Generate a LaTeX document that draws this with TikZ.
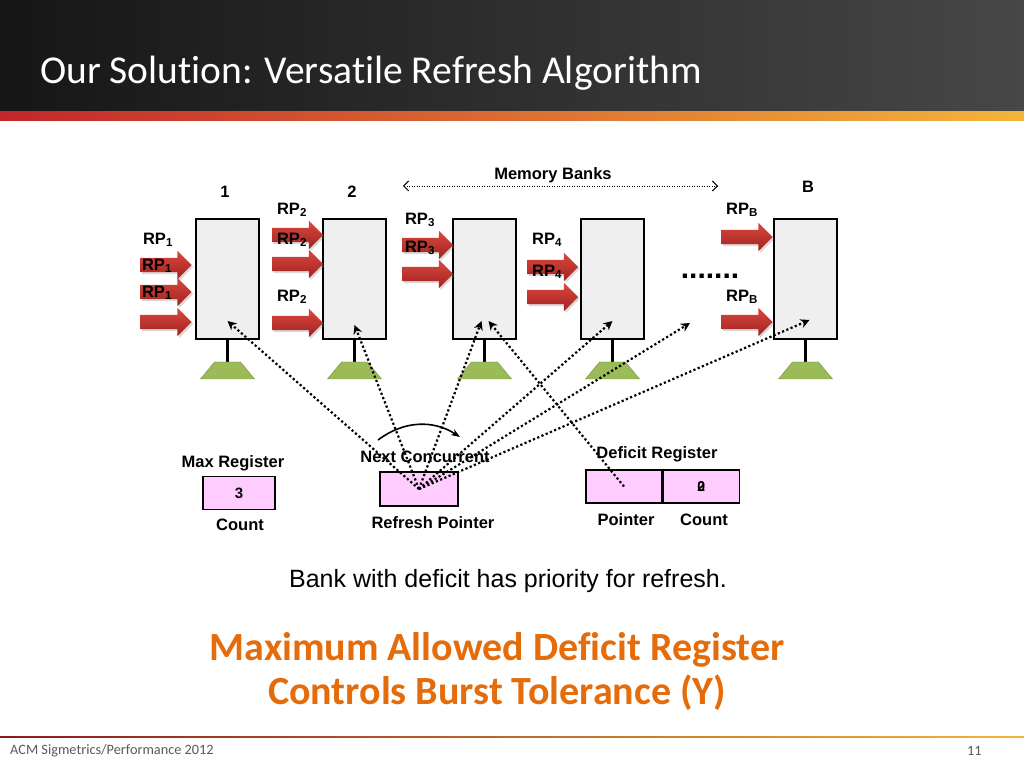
\documentclass[tikz,border=0pt]{standalone}
\usepackage{fontspec}
\setmainfont{Liberation Sans}
\newfontfamily\slidefont[Ligatures=NoCommon]{Carlito}
\usepackage{tikz}
\usetikzlibrary{positioning, shapes.arrows, shadows, arrows.meta}

\definecolor{hdrleft}{HTML}{161616}
\definecolor{hdrright}{HTML}{474747}
\definecolor{stripered}{HTML}{C3262B}
\definecolor{stripeorange}{HTML}{E8752A}
\definecolor{stripegold}{HTML}{F4B53A}
\definecolor{bankgray}{HTML}{EFEFEF}
\definecolor{footgreen}{HTML}{9BBB59}
\definecolor{rptop}{HTML}{D9483F}
\definecolor{rpbot}{HTML}{A3221F}
\definecolor{regpink}{HTML}{FFCCFF}
\definecolor{slideorange}{HTML}{E46C0A}
\definecolor{footgray}{HTML}{595959}

\begin{document}
\begin{tikzpicture}[
        x=1pt, y=1pt,
        bank/.style={draw, line width=2pt, fill=bankgray, minimum width=63pt, minimum height=120pt, inner sep=0pt},
        foot/.style={fill=footgreen, draw=footgreen!75!black, line width=0.4pt},
        rparrow/.style={single arrow, single arrow head extend=7pt, minimum height=51pt, inner xsep=0pt, inner ysep=7pt, top color=rptop, bottom color=rpbot, drop shadow={opacity=0.3, shadow xshift=1.5pt, shadow yshift=-2pt}},
        lbl/.style={font=\bfseries\fontsize{16.5}{18}\selectfont, inner sep=1pt},
        reg/.style={draw, line width=1.2pt, fill=regpink, minimum height=33pt, inner sep=0pt},
        ptr/.style={line width=2.2pt, dash pattern=on 2.2pt off 2.4pt, -{Stealth[length=9pt, width=9pt]}},
        stem/.style={line width=2.5pt}
      ]
      \useasboundingbox (0,0) rectangle (1024,768);
      % slide frame
      \shade[left color=hdrleft, right color=hdrright] (0,656) rectangle (1024,768);
      \shade[left color=stripered, middle color=stripeorange, right color=stripegold] (0,647) rectangle (1024,656);
      \node[anchor=base west, inner sep=0pt, text=white, font=\slidefont\fontsize{39.5}{44}\selectfont] (title) at (40,684) {Our Solution: Versatile Refresh Algorithm};
      \shade[left color=stripered!70!black, right color=stripegold] (0,30.5) rectangle (1024,32);
      \node[anchor=west, inner sep=0pt, text=footgray, font=\slidefont\fontsize{14.3}{16}\selectfont] (venue) at (10,17) {ACM Sigmetrics/Performance 2012};
      \node[anchor=west, inner sep=0pt, text=footgray, font=\slidefont\fontsize{14.3}{16}\selectfont] (page) at (967,17) {11};

      % banks
      \node[bank] (bank1) at (227.5,489) {};
      \node[bank, right=62pt of bank1] (bank2) {};
      \node[bank, right=65pt of bank2] (bank3) {};
      \node[bank, right=63pt of bank3] (bank4) {};
      \node[bank, right=128pt of bank4] (bankB) {};
      \coordinate (f1) at ([yshift=-22pt]bank1.south);
      \coordinate (f2) at ([yshift=-22pt]bank2.south);
      \coordinate (f3) at ([yshift=-22pt]bank3.south);
      \coordinate (f4) at ([yshift=-22pt]bank4.south);
      \coordinate (fB) at ([yshift=-22pt]bankB.south);
      \draw[stem] (bank1.south) -- (f1);
      \draw[stem] (bank2.south) -- (f2);
      \draw[stem] (bank3.south) -- (f3);
      \draw[stem] (bank4.south) -- (f4);
      \draw[stem] (bankB.south) -- (fB);
      \draw[foot] ([xshift=-13pt]f1) -- ([xshift=13pt]f1) -- ([xshift=27pt, yshift=-17pt]f1) -- ([xshift=-27pt, yshift=-17pt]f1) -- cycle;
      \draw[foot] ([xshift=-13pt]f2) -- ([xshift=13pt]f2) -- ([xshift=27pt, yshift=-17pt]f2) -- ([xshift=-27pt, yshift=-17pt]f2) -- cycle;
      \draw[foot] ([xshift=-13pt]f3) -- ([xshift=13pt]f3) -- ([xshift=27pt, yshift=-17pt]f3) -- ([xshift=-27pt, yshift=-17pt]f3) -- cycle;
      \draw[foot] ([xshift=-13pt]f4) -- ([xshift=13pt]f4) -- ([xshift=27pt, yshift=-17pt]f4) -- ([xshift=-27pt, yshift=-17pt]f4) -- cycle;
      \draw[foot] ([xshift=-13pt]fB) -- ([xshift=13pt]fB) -- ([xshift=27pt, yshift=-17pt]fB) -- ([xshift=-27pt, yshift=-17pt]fB) -- cycle;

      \node[lbl] (n1) at (225,576) {1};
      \node[lbl] (n2) at (352,576) {2};
      \node[lbl] (nB) at (808,581) {B};
      \node[lbl] (mb) at (553,593) {Memory Banks};
      \coordinate (mbl) at (403,582);
      \coordinate (mbr) at (718,582);
      \draw[line width=0.9pt, dash pattern=on 0.9pt off 1.6pt, {Straight Barb[length=5pt]}-{Straight Barb[length=5pt]}] (mbl) -- (mbr);

      % refresh requests
      \node[rparrow] (a1a) at (162.5,503) {};
      \node[rparrow] (a1b) at (162.5,476) {};
      \node[rparrow] (a1c) at (162.5,446) {};
      \node[rparrow] (a2a) at (294,533) {};
      \node[rparrow] (a2b) at (294,504) {};
      \node[rparrow] (a2c) at (294,445) {};
      \node[rparrow] (a3a) at (424,523) {};
      \node[rparrow] (a3b) at (424,494) {};
      \node[rparrow] (a4a) at (549,501) {};
      \node[rparrow] (a4b) at (549,471) {};
      \node[rparrow] (aBa) at (743.5,531) {};
      \node[rparrow] (aBb) at (743.5,446) {};
      \node[lbl] (r1a) at (158,528) {RP\textsubscript{1}};
      \node[lbl] (r1b) at (157,502) {RP\textsubscript{1}};
      \node[lbl] (r1c) at (157,475) {RP\textsubscript{1}};
      \node[lbl] (r2a) at (292,558) {RP\textsubscript{2}};
      \node[lbl] (r2b) at (292,528) {RP\textsubscript{2}};
      \node[lbl] (r2c) at (292,471) {RP\textsubscript{2}};
      \node[lbl] (r3a) at (420,548) {RP\textsubscript{3}};
      \node[lbl] (r3b) at (420,520) {RP\textsubscript{3}};
      \node[lbl] (r4a) at (547,528) {RP\textsubscript{4}};
      \node[lbl] (r4b) at (547,496) {RP\textsubscript{4}};
      \node[lbl] (rBa) at (742,558) {RP\textsubscript{B}};
      \node[lbl] (rBb) at (742,471) {RP\textsubscript{B}};
      \node[font=\bfseries\fontsize{30}{30}\selectfont, inner sep=0pt] (dots) at (710,492) {.......};

      % registers
      \node[reg, minimum width=72pt, font=\bfseries\fontsize{15}{16}\selectfont] (maxreg) at (239,275) {3};
      \node[lbl] (maxlbl) at (233,305) {Max Register};
      \node[lbl] (maxcnt) at (240,243) {Count};
      \node[reg, minimum width=78pt, minimum height=34pt] (rp) at (419,279) {};
      \node[lbl] (nc) at (425,311) {Next Concurrent};
      \node[lbl] (rplbl) at (433,245) {Refresh Pointer};
      \node[reg, minimum width=76pt] (dp) at (624,281.5) {};
      \node[reg, minimum width=76pt, right=0pt of dp, font=\bfseries\fontsize{14}{16}\selectfont] (dc) {\rlap{0}2};
      \node[lbl] (deflbl) at (657,314) {Deficit Register};
      \node[lbl] (dplbl) at (626,248) {Pointer};
      \node[lbl] (dclbl) at (704,248) {Count};

      % pointers
      \coordinate (t1) at ([yshift=19pt]bank1.south);
      \coordinate (t2) at ([yshift=15pt]bank2.south);
      \coordinate (t3) at ([xshift=-3pt, yshift=19pt]bank3.south);
      \coordinate (t3b) at ([xshift=4pt, yshift=19pt]bank3.south);
      \coordinate (t4) at ([yshift=19pt]bank4.south);
      \coordinate (tgap) at (690,445);
      \coordinate (tB) at ([xshift=4pt, yshift=20pt]bankB.south);
      \draw[ptr] (rp.center) -- (t1);
      \draw[ptr] (rp.center) -- (t2);
      \draw[ptr] (rp.center) -- (t3);
      \draw[ptr] (rp.center) -- (t4);
      \draw[ptr] (rp.center) -- (tgap);
      \draw[ptr] (rp.center) -- (tB);
      \draw[ptr] (dp.center) -- (t3b);
      \coordinate (cs) at (378,328);
      \coordinate (ce) at (460,331);
      \draw[line width=1.6pt, -{Stealth[length=9pt]}] (cs) to[bend left=35] (ce);

      % message
      \node[font=\fontsize{25}{28}\selectfont] (msg) at (508,187) {Bank with deficit has priority for refresh.};
      \node[text=slideorange, font=\slidefont\bfseries\fontsize{40}{44}\selectfont] (claim1) at (497,118) {Maximum Allowed Deficit Register};
      \node[text=slideorange, font=\slidefont\bfseries\fontsize{40}{44}\selectfont] (claim2) at (497,75) {Controls Burst Tolerance (Y)};
    \end{tikzpicture}
\end{document}
